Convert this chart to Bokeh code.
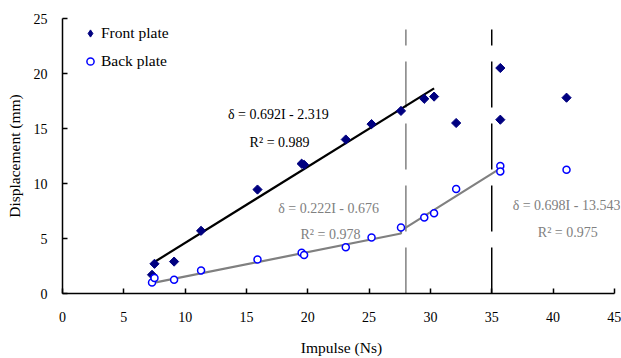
import numpy as np
from bokeh.plotting import figure
from bokeh.models import Range1d, FixedTicker, Legend, LegendItem, Label
from bokeh.embed import file_html
from bokeh.resources import INLINE

# ---- data ----
impulse = [7.3, 7.5, 9.1, 11.3, 15.9, 19.5, 19.7, 23.1, 25.2, 27.6, 29.5, 30.3, 32.1, 35.7, 35.7, 41.1]
front_disp = [1.7, 2.7, 2.9, 5.7, 9.45, 11.8, 11.7, 14.0, 15.4, 16.6, 17.7, 17.9, 15.5, 20.5, 15.8, 17.8]
back_disp = [1.0, 1.4, 1.25, 2.1, 3.1, 3.7, 3.5, 4.2, 5.1, 6.0, 6.9, 7.3, 9.5, 11.6, 11.1, 11.25]

# trend lines: slope, intercept, x start, x end
front_fit = [0.692, -2.319, 7.3, 30.3]
back_fit_1 = [0.222, -0.676, 7.3, 27.6]
back_fit_2 = [0.698, -13.543, 27.6, 35.7]

boundaries = [28, 35]
boundary_top = 24

x_ticks = [0, 5, 10, 15, 20, 25, 30, 35, 40, 45]
y_ticks = [0, 5, 10, 15, 20, 25]

SERIF = "Liberation Serif"
NAVY = "#000080"
GRAY = "#808080"

p = figure(width=621, height=358, x_range=Range1d(0, 45.5), y_range=Range1d(0, 25),
           output_backend="svg", toolbar_location=None,
           min_border_left=62, min_border_right=1, min_border_top=18, min_border_bottom=65)
p.outline_line_color = None
p.grid.visible = False
p.background_fill_color = "white"
p.border_fill_color = "white"

for ax, ticks in ((p.xaxis[0], x_ticks), (p.yaxis[0], y_ticks)):
    ax.ticker = FixedTicker(ticks=ticks)
    ax.minor_tick_line_color = None
    ax.major_tick_in = 5
    ax.major_tick_out = 0
    ax.axis_line_color = "black"
    ax.axis_line_width = 1.5
    ax.major_tick_line_width = 1.5
    ax.major_label_text_font = SERIF
    ax.major_label_text_font_size = "14px"
    ax.major_label_text_color = "black"
    ax.axis_label_text_font = SERIF
    ax.axis_label_text_font_size = "15.5px"
    ax.axis_label_text_font_style = "normal"
    ax.axis_label_text_color = "black"

p.xaxis.bounds = (0, 45)
p.xaxis.axis_label = "Impulse (Ns)"
p.yaxis.axis_label = "Displacement (mm)"
p.xaxis.major_label_standoff = 18
p.xaxis.axis_label_standoff = 14
p.yaxis.major_label_standoff = 15
p.yaxis.axis_label_standoff = 8

# dashed boundaries
for bx, col in zip(boundaries, [GRAY, "black"]):
    p.line([bx, bx], [0, boundary_top], line_color=col, line_width=1.5, line_dash="46 16")

# trend lines
def fit_line(f):
    xs = np.array([f[2], f[3]])
    return xs, f[0] * xs + f[1]

fx, fy = fit_line(front_fit)
p.line(fx, fy, line_color="black", line_width=2.2)
bx1, by1 = fit_line(back_fit_1)
bx2, by2 = fit_line(back_fit_2)
p.line(list(bx1) + list(bx2), list(by1) + list(by2), line_color=GRAY, line_width=2.2)

# points
r_front = p.scatter(impulse, front_disp, marker="square", angle=np.pi / 4, size=6.5,
                    fill_color=NAVY, line_color=NAVY, line_width=1)
r_back = p.scatter(impulse, back_disp, marker="circle", size=7,
                   fill_color="white", line_color="#0000FF", line_width=1.5)
# legend-only glyph (diamond shape, zero size in the plot)
r_front_key = p.scatter(impulse, front_disp, marker="diamond", size=0,
                        fill_color=NAVY, line_color=NAVY, line_width=1)

legend = Legend(items=[LegendItem(label="Front plate", renderers=[r_front_key]),
                       LegendItem(label="Back plate", renderers=[r_back])],
                location=(19, 222), orientation="vertical",
                glyph_width=18, glyph_height=18, label_height=20, spacing=8,
                label_standoff=2, padding=0, margin=0,
                border_line_color=None, background_fill_alpha=0,
                label_text_font=SERIF, label_text_font_size="15.5px",
                label_text_color="black")
p.add_layout(legend)

# equation annotations
ann = [
    ("δ = 0.692I - 2.319", 17.6, 16.3, "black"),
    ("R² = 0.989", 17.7, 13.7, "black"),
    ("δ = 0.222I - 0.676", 21.7, 7.7, GRAY),
    ("R² = 0.978", 21.85, 5.36, GRAY),
    ("δ = 0.698I - 13.543", 41.1, 8.0, GRAY),
    ("R² = 0.975", 41.2, 5.55, GRAY),
]
for txt, x, y, col in ann:
    p.add_layout(Label(x=x, y=y, text=txt, text_align="center", text_baseline="middle",
                       text_font=SERIF, text_font_size="14px", text_color=col))

open("out.html", "w").write(file_html(p, INLINE))
